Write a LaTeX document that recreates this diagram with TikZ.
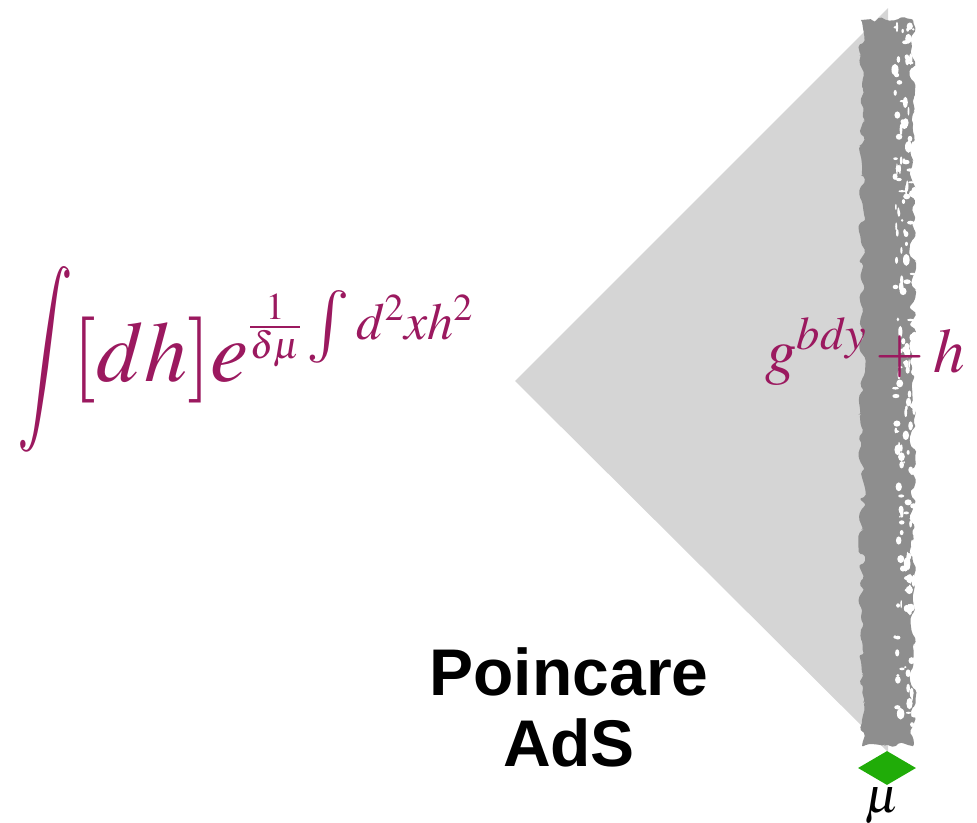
\documentclass[tikz,border=0pt]{standalone}
\usepackage{mathptmx}
\usepackage[no-math]{fontspec}
\newfontfamily\labelfont{Liberation Sans}
\usepackage{graphicx}
\usepackage{xcolor}
\usepackage{tikz}
\usetikzlibrary{shapes,arrows,positioning,calc,decorations.pathmorphing}

\definecolor{formulacolor}{RGB}{155,25,95}
\definecolor{wedgegray}{RGB}{213,213,213}
\definecolor{wallgray}{RGB}{142,142,142}
\definecolor{pointgreen}{RGB}{32,172,8}

% smaller exponents for the big formula
\DeclareMathSizes{86}{86}{52}{38}

\begin{document}
\begin{tikzpicture}[x=1pt,y=-1pt,
        formula/.style={inner sep=0pt,text=formulacolor},
        cutoff/.style={diamond,fill=pointgreen,minimum width=58pt,minimum height=34pt,inner sep=0pt}]
            \useasboundingbox (0,0) rectangle (977,822);
            % draw the wedge of the Poincare patch
            \fill[wedgegray] (515,381) -- (888,8) -- (888,752) -- cycle;
            % draw the rough cutoff wall
            \fill[wallgray,decorate,decoration={random steps,segment length=6pt,amplitude=4pt},rounded corners=2pt]
                (862,20) rectangle (913,746);
            % punch small holes into the right side of the wall
            \pgfmathsetseed{11}
            \foreach \i in {1,...,170}
            {
                \pgfmathsetmacro{\xx}{895+rnd*20}
                \pgfmathsetmacro{\yy}{25+rnd*700}
                \pgfmathsetmacro{\rx}{0.8+rnd*3}
                \pgfmathsetmacro{\ry}{1+rnd*5}
                \fill[white] (\xx,\yy) ellipse ({\rx} and {\ry});
            }
            % green point at the bottom of the wall
            \node[cutoff] (mu) at (887,768) {};
            \node[anchor=north,inner sep=0pt] (mulabel) at (882,788) {\fontsize{50}{56}\selectfont$\mu$};
            % path integral over the boundary metric
            \node[formula,anchor=base west] (pathint) at (17,381)
                {\fontsize{86}{100}\selectfont$\mathop{\vcenter{\hbox{\scalebox{0.72}[1.08]{$\displaystyle\int$}}}}[dh]e^{\raisebox{10pt}{$\scriptstyle\frac{1}{\delta\mu}\,\vcenter{\hbox{\scalebox{1.4}{$\scriptstyle\int$}}}\,d^2xh^2$}}$};
            \node[formula,anchor=base west] (metric) at (765,372)
                {\fontsize{63}{70}\selectfont$g^{bdy}+h$};
            % label of the bulk
            \node[align=center,inner sep=0pt,font={\fontsize{66}{71}\selectfont\labelfont\bfseries}] (bulk) at (569,707)
                {Poincare\\AdS};
        \end{tikzpicture}
\end{document}
